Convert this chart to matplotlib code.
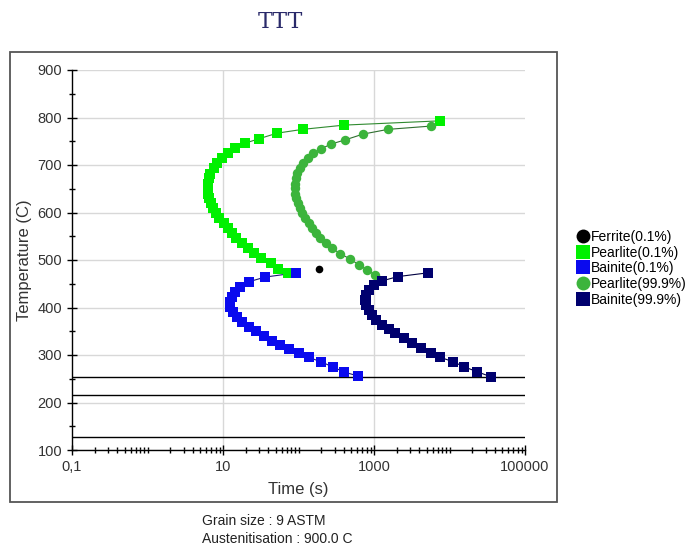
import numpy as np
import matplotlib
matplotlib.use("Agg")
import matplotlib.pyplot as plt
from matplotlib.lines import Line2D
from matplotlib.patches import Rectangle
from matplotlib.ticker import (FixedLocator, FixedFormatter, LogLocator,
                               MultipleLocator, NullFormatter)

plt.rcParams['font.family'] = ['Liberation Sans', 'DejaVu Sans']

# Ferrite start (0.1%)
ferrite_t = [187]
ferrite_T = [481]

# Pearlite start (0.1%)
pearlite_start_t = [7550, 404, 113, 52, 29.6, 19.7, 14.5, 11.5, 9.7, 8.3,
                    7.5, 6.8, 6.5, 6.3, 6.25, 6.35, 6.55, 6.9, 7.4, 8.0,
                    8.75, 10.2, 11.5, 13.1, 15.0, 17.9, 21.3, 26, 32, 43,
                    54, 72]
pearlite_start_T = [793, 784, 775, 767, 755, 746, 735, 725, 714, 704,
                    693, 682, 672, 661, 651, 640, 630, 619, 609, 598,
                    588, 577, 567, 556, 546, 535, 525, 514, 504, 493,
                    482, 472]

# Bainite start (0.1%)
bainite_start_t = [93.5, 36, 21.8, 16.9, 14.5, 13.2, 12.2, 12.5, 13.6, 15.3,
                   17.9, 21.8, 27.6, 35.2, 44.6, 57.4, 74, 100, 136, 197,
                   283, 405, 607]
bainite_start_T = [473, 464, 454, 444, 433, 423, 412, 402, 391, 381,
                   370, 360, 350, 340, 330, 321, 312, 304, 295, 286,
                   275, 264, 256]

# Pearlite finish (99.9%)
pearlite_end_t = [5740, 1530, 714, 417, 269, 199, 156, 132, 115, 103.5,
                  95.5, 91.5, 89.5, 88.8, 89.5, 92, 97, 103.5, 112, 123,
                  137, 151, 170, 194, 230, 278, 358, 486, 625, 807,
                  1040]
pearlite_end_T = [782, 775, 765, 753, 744, 734, 725, 714, 704, 693,
                  683, 672, 661, 651, 640, 630, 619, 609, 598, 588,
                  577, 567, 556, 546, 535, 525, 513, 502, 490, 479,
                  468]

# Bainite finish (99.9%)
bainite_end_t = [5190, 2055, 1277, 988, 848, 783, 767, 791, 848, 941,
                 1072, 1276, 1560, 1914, 2466, 3186, 4230, 5690, 7550, 11120,
                 15700, 23100, 35480]
bainite_end_T = [473, 465, 456, 447, 437, 426, 416, 405, 395, 384,
                 374, 363, 354, 346, 335, 325, 314, 304, 295, 286,
                 275, 265, 254]

# martensite temperatures
ms_lines = [254, 215, 127]

x_ticks = [0.1, 10, 1000, 100000]
x_tick_labels = ['0,1', '10', '1000', '100000']

W, H = 693, 552
fig = plt.figure(figsize=(W / 100, H / 100), dpi=100)
ax = fig.add_axes([72 / W, 1 - 450 / H, (525 - 72) / W, (450 - 70) / H])

series = [
    (ferrite_t, ferrite_T, 'Ferrite(0.1%)', 'o', '#000000', '#000000', 5.5),
    (pearlite_start_t, pearlite_start_T, 'Pearlite(0.1%)', 's', '#00f000', '#2f8a2f', 6.8),
    (bainite_start_t, bainite_start_T, 'Bainite(0.1%)', 's', '#0a0aee', '#1a1a70', 6.8),
    (pearlite_end_t, pearlite_end_T, 'Pearlite(99.9%)', 'o', '#3cb43c', '#2f6f2f', 6.8),
    (bainite_end_t, bainite_end_T, 'Bainite(99.9%)', 's', '#00006e', '#000040', 6.8),
]

handles = []
for t, T, name, mk, col, lcol, ms in series:
    ax.plot(t, T, '-', color=lcol, lw=0.8, zorder=3)
    ax.plot(t, T, mk, color=col, markersize=ms, markeredgewidth=0, zorder=4)
    handles.append(Line2D([], [], linestyle='none', marker=mk, color=col,
                          markersize=10, markeredgewidth=0, label=name))

for y in ms_lines:
    ax.axhline(y, color='black', lw=1.0, zorder=2)

ax.set_xscale('log')
ax.set_xlim(0.1, 100000)
ax.set_ylim(100, 900)

ax.xaxis.set_major_locator(FixedLocator(x_ticks))
ax.xaxis.set_major_formatter(FixedFormatter(x_tick_labels))
ax.xaxis.set_minor_locator(LogLocator(base=10, subs=np.arange(1, 10), numticks=30))
ax.xaxis.set_minor_formatter(NullFormatter())
ax.yaxis.set_major_locator(MultipleLocator(100))
ax.yaxis.set_minor_locator(MultipleLocator(50))

ax.grid(True, which='major', color='#d8d8d8', lw=1.0, zorder=0)
ax.xaxis.get_major_ticks()[-1].gridline.set_visible(False)
ax.xaxis.get_major_ticks()[0].gridline.set_visible(False)

for side in ['top', 'right']:
    ax.spines[side].set_visible(False)
for side in ['left', 'bottom']:
    ax.spines[side].set_color('black')
    ax.spines[side].set_linewidth(1.0)

ax.tick_params(which='major', direction='inout', length=7, width=1, labelsize=10.5,
               colors='black', labelcolor='#333333')
ax.tick_params(which='minor', direction='inout', length=5, width=1)

ax.set_xlabel('Time (s)', fontsize=12, color='#333333', labelpad=6)
ax.set_ylabel('Temperature (C)', fontsize=12, color='#333333', labelpad=4)

fig.text(280 / W, 1 - 22 / H, 'TTT', ha='center', va='center', fontsize=16,
         family='DejaVu Serif', color='#2a2a6a')

# chart panel frame
fig.add_artist(Rectangle((10 / W, 1 - 502 / H), (557 - 10) / W, (502 - 52) / H,
                         transform=fig.transFigure, fill=False,
                         edgecolor='#555555', lw=1.3))

fig.legend(handles=handles, loc='upper left', bbox_to_anchor=(578 / W, 1 - 230 / H),
           frameon=False, fontsize=10, handlelength=0.7, handletextpad=0.2,
           labelspacing=0.12, borderpad=0, borderaxespad=0)

fig.text(202 / W, 1 - 521 / H, 'Grain size : 9 ASTM', ha='left', va='center',
         fontsize=10, color='#222222')
fig.text(202 / W, 1 - 539 / H, 'Austenitisation : 900.0 C', ha='left', va='center',
         fontsize=10, color='#222222')

fig.savefig('out.png', dpi=100)
